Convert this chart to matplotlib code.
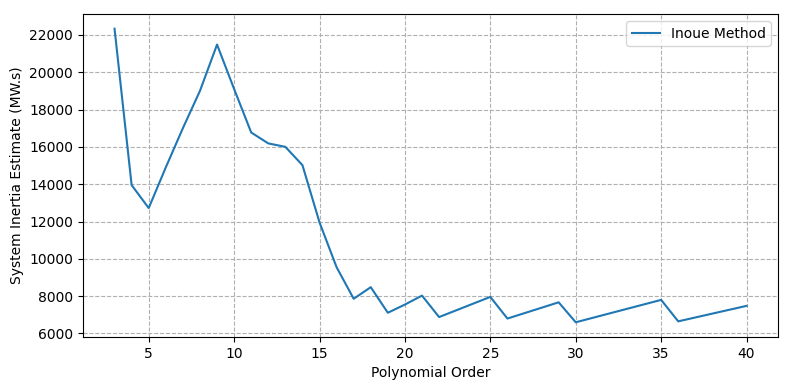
import numpy as np
import matplotlib
matplotlib.use('Agg')
import matplotlib.pyplot as plt

# Порядок полінома та оцінка інерції
orders = [3, 4, 5, 6, 7, 8, 9, 10, 11, 12, 13, 14, 15, 16, 17, 18, 19, 20, 21, 22,
          25, 26, 29, 30, 35, 36, 40]
inertia = [22330, 13950, 12720, 14900, 17000, 19000, 21480, 19100, 16770, 16185, 16000,
           15020, 11950, 9550, 7860, 8480, 7110, 7550, 8030, 6880,
           7960, 6800, 7670, 6600, 7800, 6650, 7480]

fig, ax = plt.subplots(figsize=(7.9, 3.9), dpi=100)

ax.plot(orders, inertia, color='#1f77b4', linewidth=1.5, label='Inoue Method')

ax.set_xlabel('Polynomial Order')
ax.set_ylabel('System Inertia Estimate (MW.s)')
ax.set_xticks([5, 10, 15, 20, 25, 30, 35, 40])
ax.grid(True, linestyle='--', color='#b0b0b0', linewidth=0.8)
ax.legend(loc='upper right')

plt.subplots_adjust(left=0.105, right=0.985, top=0.964, bottom=0.136)
plt.savefig('out.png')
